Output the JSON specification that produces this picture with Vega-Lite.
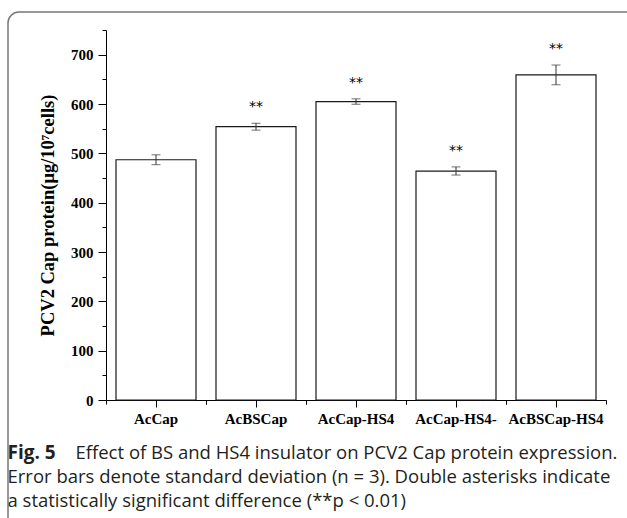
{
  "$schema": "https://vega.github.io/schema/vega-lite/v6.json",
  "width": 500,
  "height": 370,
  "autosize": "none",
  "padding": {"left": 106, "top": 30, "right": 21, "bottom": 118},
  "background": "white",
  "config": {"view": {"stroke": null}, "axis": {"grid": false}},
  "data": {
    "values": [
      {"construct": "AcCap", "mean": 487, "lower": 477, "upper": 497, "sig": ""},
      {"construct": "AcBSCap", "mean": 554, "lower": 547, "upper": 561, "sig": "**"},
      {"construct": "AcCap-HS4", "mean": 605, "lower": 599.5, "upper": 610.5, "sig": "**"},
      {"construct": "AcCap-HS4-", "mean": 464, "lower": 456, "upper": 472.5, "sig": "**"},
      {"construct": "AcBSCap-HS4", "mean": 659, "lower": 639, "upper": 679, "sig": "**"}
    ]
  },
  "layer": [
    {
      "data": {"values": [{"frame": "box"}]},
      "mark": {"type": "rect", "fill": null, "stroke": "#777777", "strokeWidth": 1.5, "cornerRadius": 11},
      "encoding": {
        "x": {"value": -98},
        "x2": {"value": 720},
        "y": {"value": -18},
        "y2": {"value": 620}
      }
    },
    {
      "mark": {"type": "bar", "fill": "white", "stroke": "#1a1a1a", "strokeWidth": 1.2, "width": {"band": 0.8}},
      "encoding": {
        "x": {
          "field": "construct", "type": "nominal", "sort": null,
          "scale": {"paddingInner": 0, "paddingOuter": 0},
          "axis": {
            "title": null, "labelAngle": 0, "orient": "bottom",
            "labelFont": "Liberation Serif", "labelFontWeight": "bold", "labelFontSize": 15, "labelColor": "black",
            "labelPadding": 4, "tickSize": 7, "tickColor": "black", "domainColor": "black", "labelOverlap": false
          }
        },
        "y": {
          "field": "mean", "type": "quantitative",
          "scale": {"domain": [0, 750], "nice": false},
          "axis": {
            "orient": "left",
            "values": [0, 100, 200, 300, 400, 500, 600, 700],
            "title": "PCV2 Cap protein(μg/10⁷cells)",
            "titleFont": "Liberation Serif", "titleFontWeight": "bold", "titleFontSize": 18.5, "titleColor": "black",
            "titlePadding": 13,
            "labelFont": "Liberation Serif", "labelFontWeight": "bold", "labelFontSize": 15, "labelColor": "black",
            "labelPadding": 5, "tickSize": 8, "tickColor": "black", "domainColor": "black"
          }
        }
      }
    },
    {
      "mark": {"type": "rule", "color": "#333", "strokeWidth": 1},
      "encoding": {
        "x": {
          "field": "construct", "type": "nominal", "sort": null,
          "axis": {
            "orient": "bottom", "labels": false, "domain": false, "bandPosition": 0, "tickSize": 4, "tickColor": "black",
            "title": "Fig. 5", "titleX": -99, "titleY": 43, "titleAlign": "left", "titleBaseline": "top", "titleAngle": 0,
            "titleFont": "Open Sans", "titleFontSize": 19, "titleFontWeight": "bold", "titleColor": "#231f20"
          }
        },
        "y": {
          "field": "lower", "type": "quantitative",
          "axis": {"orient": "left", "title": null, "labels": false, "domain": false, "values": [50, 150, 250, 350, 450, 550, 650, 750], "tickSize": 4, "tickColor": "black"}
        },
        "y2": {"field": "upper"}
      }
    },
    {
      "mark": {"type": "tick", "color": "#333", "thickness": 1, "size": 9},
      "encoding": {
        "x": {
          "field": "construct", "type": "nominal", "sort": null,
          "axis": {
            "orient": "bottom", "labels": false, "domain": false, "bandPosition": 1, "tickSize": 4, "tickColor": "black",
            "title": [
              "Error bars denote standard deviation (n = 3). Double asterisks indicate",
              "a statistically significant difference (**p < 0.01)"
            ],
            "titleX": -99, "titleY": 67, "titleAlign": "left", "titleBaseline": "top", "titleAngle": 0, "titleLineHeight": 24,
            "titleFont": "Open Sans", "titleFontSize": 18.5, "titleFontWeight": "normal", "titleColor": "#231f20"
          }
        },
        "y": {"field": "lower", "type": "quantitative", "axis": null}
      }
    },
    {
      "mark": {"type": "tick", "color": "#333", "thickness": 1, "size": 9},
      "encoding": {
        "x": {
          "field": "construct", "type": "nominal", "sort": null,
          "axis": {
            "orient": "bottom", "labels": false, "domain": false, "ticks": false,
            "title": "Effect of BS and HS4 insulator on PCV2 Cap protein expression.",
            "titleX": -31, "titleY": 43, "titleAlign": "left", "titleBaseline": "top", "titleAngle": 0,
            "titleFont": "Open Sans", "titleFontSize": 18.5, "titleFontWeight": "normal", "titleColor": "#231f20"
          }
        },
        "y": {"field": "upper", "type": "quantitative", "axis": null}
      }
    },
    {
      "mark": {"type": "text", "dy": -16, "font": "DejaVu Sans", "fontSize": 14, "color": "black", "baseline": "middle"},
      "encoding": {
        "x": {"field": "construct", "type": "nominal", "sort": null, "axis": null},
        "y": {"field": "upper", "type": "quantitative", "axis": null},
        "text": {"field": "sig"}
      }
    }
  ],
  "resolve": {"axis": {"x": "independent", "y": "independent"}}
}
